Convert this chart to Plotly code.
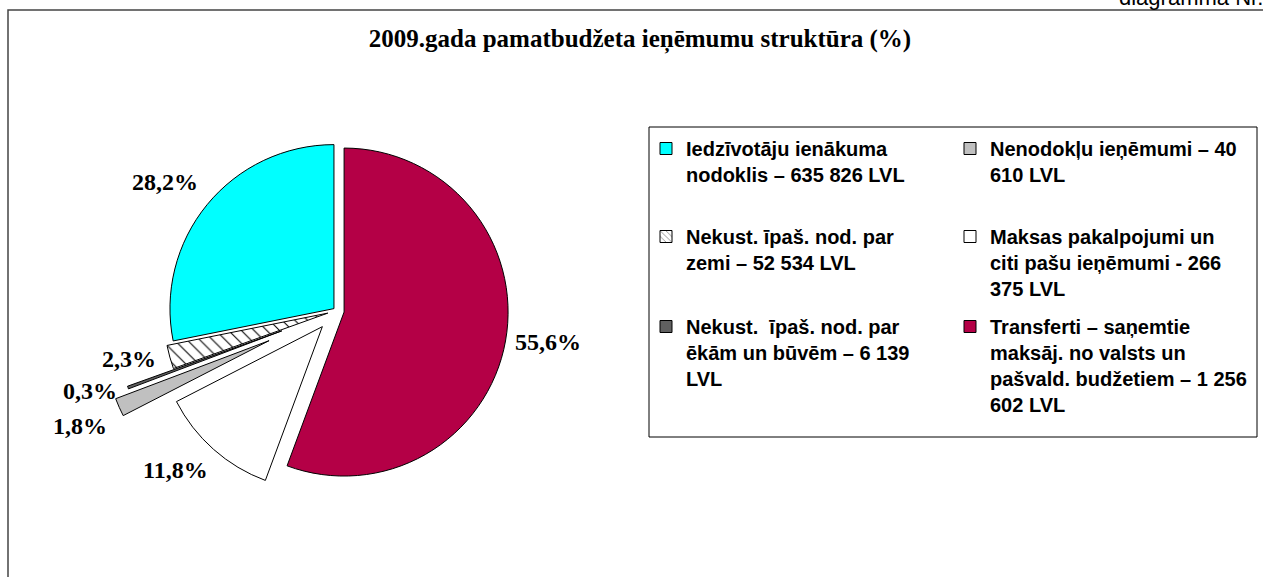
import plotly.graph_objects as go

# ---------------- data ----------------
categories = [
    "Iedzīvotāju ienākuma nodoklis",
    "Nekust. īpaš. nod. par zemi",
    "Nekust. īpaš. nod. par ēkām un būvēm",
    "Nenodokļu ieņēmumi",
    "Maksas pakalpojumi un citi pašu ieņēmumi",
    "Transferti – saņemtie maksāj. no valsts un pašvald. budžetiem",
]
values_lvl = [635826, 52534, 6139, 40610, 266375, 1256602]
legend_labels = [
    "Iedzīvotāju ienākuma<br>nodoklis – 635 826 LVL",
    "Nekust. īpaš. nod. par<br>zemi – 52 534 LVL",
    "Nekust.\u00a0 īpaš. nod. par<br>ēkām un būvēm – 6 139<br>LVL",
    "Nenodokļu ieņēmumi – 40<br>610 LVL",
    "Maksas pakalpojumi un<br>citi pašu ieņēmumi - 266<br>375 LVL",
    "Transferti – saņemtie<br>maksāj. no valsts un<br>pašvald. budžetiem – 1 256<br>602 LVL",
]
# legend grid of the original: rows of two entries
legend_rows = [[0, 3], [1, 4], [2, 5]]
title_text = "2009.gada pamatbudžeta ieņēmumu struktūra (%)"
corner_text = "diagramma Nr. 1"

# ---------------- styles ----------------
colors = ["#00FFFF", "#FFFFFF", "#606060", "#C0C0C0", "#FFFFFF", "#B40046"]
patterns = ["", "\\", "", "", "", ""]
pulls = [0.02, 0.055, 0.355, 0.45, 0.13, 0.047]
# label centres in pixels (x from left, y from top)
label_pos = [(165, 182), (129, 359), (90, 391), (80, 426), (175, 470), (548, 342)]
legend_row_top = [129, 217, 307]  # px from top
legend_box = (649, 127, 1257, 437)  # x0, y0, x1, y1 in px

W, H = 1263, 577
ML, MR = 0, 463
PW = W - ML - MR  # plot-area width used for paper coordinates


def px(x):
    return (x - ML) / PW


def py(y):
    return 1 - y / H


total = sum(values_lvl)
pct_text = [f"{v / total * 100:.1f}".replace(".", ",") + "%" for v in values_lvl]

# pie geometry: centre and radius
cx, cy, r = 336.5, 310.7, 164
half = r * (1 + max(pulls))

# the original runs counter-clockwise from 12 o'clock; draw the same order clockwise reversed
rev = list(range(len(values_lvl)))[::-1]

fig = go.Figure()
fig.add_trace(go.Pie(
    labels=[categories[i] for i in rev],
    values=[values_lvl[i] for i in rev],
    sort=False,
    direction="clockwise",
    rotation=0,
    pull=[pulls[i] for i in rev],
    textinfo="none",
    hoverinfo="none",
    showlegend=False,
    marker=dict(
        colors=[colors[i] for i in rev],
        line=dict(color="black", width=1),
        pattern=dict(shape=[patterns[i] for i in rev], fgcolor="black", size=9, solidity=0.12),
    ),
    domain=dict(x=[px(cx - half), px(cx + half)], y=[py(cy + half), py(cy - half)]),
))

legend_font = dict(family="Liberation Sans, Arial, sans-serif", size=20, color="black", weight="bold")
legend_layouts = {}
for row, items in enumerate(legend_rows):
    lname = "legend" if row == 0 else f"legend{row + 1}"
    for i in items:
        fig.add_trace(go.Bar(
            x=[None], y=[None],
            name=legend_labels[i],
            legend=lname,
            marker=dict(
                color=colors[i],
                line=dict(color="black", width=1),
                pattern=dict(shape=patterns[i], fgcolor="black", bgcolor="white", size=5, solidity=0.2),
            ),
            showlegend=True,
            hoverinfo="skip",
        ))
    legend_layouts[lname] = dict(
        orientation="h",
        x=px(646), y=py(legend_row_top[row]), xanchor="left", yanchor="top",
        entrywidth=259, entrywidthmode="pixels",
        valign="top", maxheight=1,
        bgcolor="rgba(0,0,0,0)", borderwidth=0,
        font=legend_font, traceorder="normal",
    )

annotations = []
for txt, (lx, ly) in zip(pct_text, label_pos):
    annotations.append(dict(
        x=px(lx), y=py(ly), xref="paper", yref="paper",
        text=txt, showarrow=False, xanchor="center", yanchor="middle",
        font=dict(family="Liberation Serif, Times New Roman, serif", size=24, color="black", weight="bold"),
    ))
annotations.append(dict(
    x=px(1117), y=py(-3), xref="paper", yref="paper",
    text=corner_text, showarrow=False, xanchor="left", yanchor="middle",
    font=dict(family="Liberation Sans, Arial, sans-serif", size=22, color="black"),
))

bx0, by0, bx1, by1 = legend_box
fig.update_layout(
    width=W, height=H,
    margin=dict(l=ML, r=MR, t=0, b=0, pad=0),
    paper_bgcolor="white", plot_bgcolor="white",
    xaxis=dict(visible=False), yaxis=dict(visible=False),
    title=dict(
        text=title_text, x=640 / W, y=1 - 38 / H, xanchor="center", yanchor="middle",
        font=dict(family="Liberation Serif, Times New Roman, serif", size=25, color="black", weight="bold"),
    ),
    annotations=annotations,
    shapes=[
        dict(
            type="rect", xref="paper", yref="paper",
            x0=px(8), x1=px(W + 20), y0=py(H + 20), y1=py(10),
            line=dict(color="#444444", width=1.5), fillcolor="rgba(0,0,0,0)", layer="below",
        ),
        dict(
            type="rect", xref="paper", yref="paper",
            x0=px(bx0), x1=px(bx1), y0=py(by1), y1=py(by0),
            line=dict(color="black", width=1), fillcolor="white", layer="below",
        ),
    ],
    showlegend=True,
    **legend_layouts,
)

fig.write_html(
    "out.html",
    config={"displayModeBar": False},
    post_script="document.body.style.margin='0';document.body.style.overflow='hidden';",
)
